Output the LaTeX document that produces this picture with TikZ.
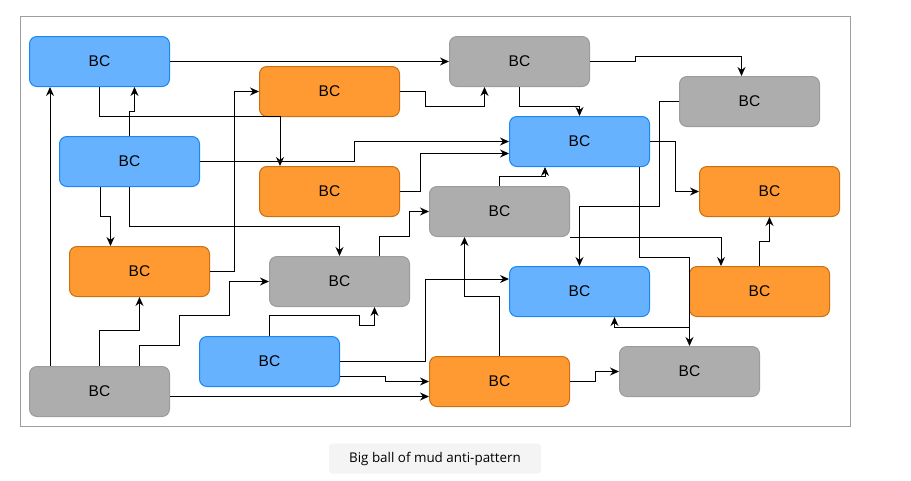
\documentclass[tikz,border=0pt]{standalone}
\usepackage{fontspec}
\setmainfont{Liberation Sans}
\newfontfamily\capfont{Open Sans}
\usetikzlibrary{arrows.meta}
\definecolor{bcblue}{HTML}{66B2FF}
\definecolor{bcbluel}{HTML}{1C86F2}
\definecolor{bcorange}{HTML}{FF9A33}
\definecolor{bcorangel}{HTML}{CC6F10}
\definecolor{bcgray}{HTML}{ADADAD}
\definecolor{bcgrayl}{HTML}{9C9C9C}
\definecolor{framegray}{HTML}{9E9E9E}
\definecolor{capfill}{HTML}{F4F4F4}
\tikzset{
  bc/.style={rectangle, rounded corners=7.5pt, minimum width=140pt, minimum height=50pt,
    inner sep=0pt, line width=1pt, font=\fontsize{15.5pt}{18pt}\selectfont},
  bcb/.style={bc, fill=bcblue, draw=bcbluel},
  bco/.style={bc, fill=bcorange, draw=bcorangel},
  bcg/.style={bc, fill=bcgray, draw=bcgrayl},
  arr/.style={draw=black, line width=1pt, -{Stealth[length=9pt,width=8pt,inset=3pt]}},
}
\begin{document}
\begin{tikzpicture}[x=1pt,y=-1pt]
\useasboundingbox (0,0) rectangle (911,480);
\draw[framegray, line width=1pt] (20,16) rectangle (850,426.5);
\node[fill=capfill, rounded corners=3pt, minimum width=212pt, minimum height=30pt, inner sep=0pt,
  font=\capfont\fontsize{13.4pt}{16pt}\selectfont] (cap) at (435,458.5) {Big ball of mud anti-pattern};

\node[bcb] (n1) at (99.5,61.5) {BC};
\node[bcg] (n2) at (519.5,61.5) {BC};
\node[bco] (n3) at (329.5,91.5) {BC};
\node[bcg] (n4) at (749.5,101.5) {BC};
\node[bcb] (n5) at (129.5,161.5) {BC};
\node[bcb] (n6) at (579.5,141.5) {BC};
\node[bco] (n7) at (329.5,191.5) {BC};
\node[bco] (n8) at (769.5,191.5) {BC};
\node[bcg] (n9) at (499.5,211.5) {BC};
\node[bco] (n10) at (139.5,271.5) {BC};
\node[bcg] (n11) at (339.5,281.5) {BC};
\node[bcb] (n12) at (579.5,291.5) {BC};
\node[bco] (n13) at (759.5,291.5) {BC};
\node[bcb] (n14) at (269.5,361.5) {BC};
\node[bcg] (n15) at (99.5,391.5) {BC};
\node[bco] (n16) at (499.5,381.5) {BC};
\node[bcg] (n17) at (689.5,371.5) {BC};

% edges
\draw[arr] (n1.east) -- (n2.west);
\draw[arr] (n1.south) -- ++(0,29.5) -| ([xshift=-49.5pt]n7.north);
\draw[arr] (n5.north) -- ++(0,-25) -| ([xshift=35pt]n1.south);
\draw[arr] ([xshift=-49.5pt]n15.north) -- ([xshift=-49.5pt]n1.south);
\draw[arr] (n5.east) -- ++(154.5,0) |- (n6.west);
\draw[arr] ([xshift=-29.5pt]n5.south) -- ++(0,29.5) -| ([xshift=-29pt]n10.north);
\draw[arr] (n5.south) -- ++(0,39.5) -| (n11.north);
\draw[arr] (n10.east) -- ++(24.5,0) |- (n3.west);
\draw[arr] (n3.east) -- ++(25,0) -- ++(0,14.5) -| ([xshift=-35pt]n2.south);
\draw[arr] (n2.south) -- ++(0,19.5) -| (n6.north);
\draw[arr] (n7.east) -- ++(20,0) |- ([yshift=-12pt]n6.west);
\draw[arr] (n9.north) -- ++(0,-10) -| ([xshift=-34.5pt]n6.south);
\draw[arr] (n2.east) -- ++(45,0) -- ++(0,-5) -| ([xshift=-8pt]n4.north);
\draw[arr] (n6.east) -- ++(25,0) |- (n8.west);
\draw[arr] (n4.west) -- ++(-20,0) -- ++(0,105) -| (n12.north);
\draw[arr] ([xshift=60pt]n6.south) -- ++(0,90) -| (n17.north);
\draw[arr] ([xshift=60pt]n6.south) -- ++(0,90) -- ++(50,0) -- ++(0,70) -| ([xshift=35pt]n12.south);
\draw[arr] (n9.south east) -| ([xshift=-38.5pt]n13.north);
\draw[arr] (n13.north) -- ++(0,-25) -| (n8.south);
\draw[arr] ([xshift=40pt]n11.north) -- ++(0,-20) -- ++(30,0) |- (n9.west);
\draw[arr] (n15.north) -- ++(0,-35.5) -| (n10.south);
\draw[arr] ([xshift=40pt]n15.north) -- ++(0,-20.5) -- ++(40,0) -- ++(0,-30) -- ++(50,0) |- (n11.west);
\draw[arr] ([yshift=-5pt]n15.east) -- ([yshift=-15pt]n16.west);
\draw[arr] (n14.north) -- ++(0,-20.5) -- ++(90,0) -- ++(0,10) -| ([xshift=35pt]n11.south);
\draw[arr] (n14.east) -- ++(85,0) |- ([yshift=12.5pt]n12.west);
\draw[arr] ([yshift=-15pt]n14.east) -- ++(45,0) |- (n16.west);
\draw[arr] (n16.north) -- ++(0,-60) -| ([xshift=-35pt]n9.south);
\draw[arr] (n16.east) -- ++(25,0) |- (n17.west);
\end{tikzpicture}
\end{document}
